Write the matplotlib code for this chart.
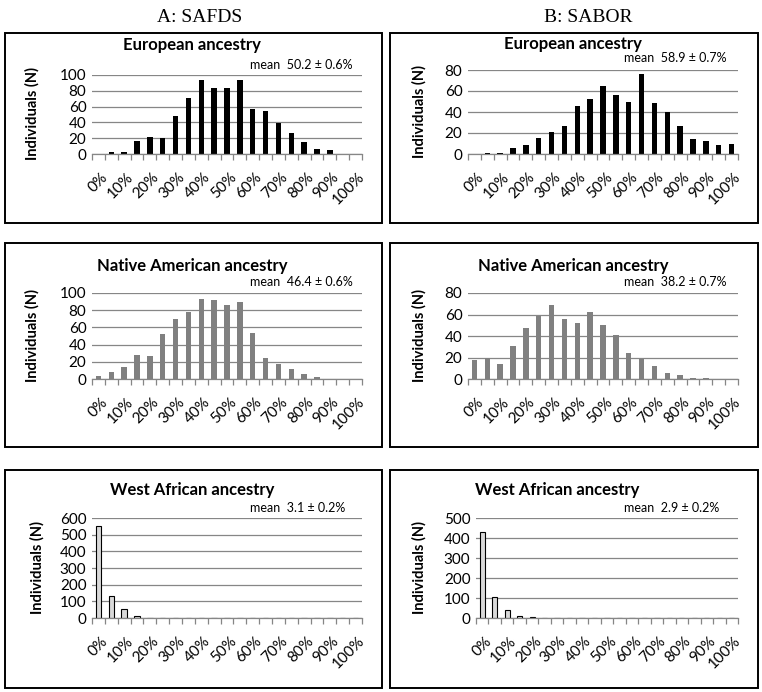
import matplotlib
matplotlib.use("Agg")
import matplotlib.pyplot as plt
from matplotlib.patches import Rectangle
from matplotlib.ticker import MultipleLocator, FixedLocator
import matplotlib.transforms as mtransforms
import numpy as np

W, H = 762, 692
DPI = 100

# ---------------- data ----------------
bin_labels = ["%d%%" % v for v in range(0, 101, 5)]          # 21 categories
tick_labels = ["%d%%" % v for v in range(0, 101, 10)]        # labelled every other category

col_titles = ["A: SAFDS", "B: SABOR"]
row_titles = ["European ancestry", "Native American ancestry", "West African ancestry"]

safds_eur = [0, 2, 3, 17, 21, 20, 48, 71, 94, 83, 84, 94, 57, 54, 39, 27, 15, 6, 5, 0, 0]
sabor_eur = [0, 1, 1, 6, 9, 15, 21, 27, 46, 52, 65, 56, 50, 76, 49, 40, 27, 14, 12, 9, 10]
safds_nat = [3, 8, 14, 28, 27, 52, 70, 78, 93, 92, 86, 90, 54, 25, 18, 12, 6, 2, 0, 0, 0]
sabor_nat = [18, 20, 14, 31, 47, 59, 69, 56, 52, 62, 50, 41, 24, 19, 12, 6, 4, 1, 1, 0, 0]
safds_waf = [550, 130, 52, 12, 3, 0, 2, 0, 0, 0, 0, 0, 0, 0, 0, 0, 0, 0, 0, 0, 0]
sabor_waf = [432, 103, 40, 8, 5, 0, 2, 0, 0, 0, 0, 0, 0, 2, 0, 0, 0, 0, 0, 0, 0]

means = [["mean  50.2 \u00b1 0.6%", "mean  58.9 \u00b1 0.7%"],
         ["mean  46.4 \u00b1 0.6%", "mean  38.2 \u00b1 0.7%"],
         ["mean  3.1 \u00b1 0.2%", "mean  2.9 \u00b1 0.2%"]]

ymax = [[100, 80], [100, 80], [600, 500]]
ystep = [[20, 20], [20, 20], [100, 100]]

series = [[safds_eur, sabor_eur], [safds_nat, sabor_nat], [safds_waf, sabor_waf]]
face = ["black", "#808080", "#d9d9d9"]
edge = ["black", "#808080", "black"]

# ---------------- layout (pixels) ----------------
boxes = [[(5, 33, 382, 223), (390, 33, 758, 223)],
         [(5, 243, 382, 447), (390, 243, 758, 447)],
         [(5, 470, 382, 688), (390, 470, 758, 688)]]
plots = [[(92, 75, 362, 154), (468, 70, 738, 154)],
         [(92, 293, 362, 379), (468, 293, 738, 379)],
         [(92, 518, 362, 618), (476, 518, 738, 618)]]
title_pos = [[(192, 45), (573, 44)], [(192, 266), (573, 266)], [(192, 490), (557, 490)]]
mean_pos = [[(250, 65), (624, 58)], [(250, 282), (624, 282)], [(250, 508), (624, 508)]]
ylab_pos = [[(32, 113), (419, 111)], [(32, 336), (419, 336)], [(37, 567), (419, 567)]]
col_pos = [(200, 18), (588, 18)]

FONT = "Lato"
plt.rcParams["font.family"] = [FONT, "DejaVu Sans"]

fig = plt.figure(figsize=(W / DPI, H / DPI), dpi=DPI)


def fx(x):
    return x / W


def fy(y):
    return 1 - y / H


for c, t in enumerate(col_titles):
    fig.text(fx(col_pos[c][0]), fy(col_pos[c][1]), t, ha="center", va="center",
             family=["Liberation Serif", "DejaVu Serif"], fontsize=14)

x = np.arange(len(bin_labels))
for r in range(3):
    for c in range(2):
        bx0, by0, bx1, by1 = boxes[r][c]
        fig.patches.append(Rectangle((fx(bx0), fy(by1)), fx(bx1 - bx0), (by1 - by0) / H,
                                     transform=fig.transFigure, fill=False,
                                     edgecolor="black", linewidth=1.4))
        px0, py0, px1, py1 = plots[r][c]
        ax = fig.add_axes([fx(px0), fy(py1), fx(px1 - px0), (py1 - py0) / H])
        ax.bar(x, series[r][c], width=0.42, color=face[r], edgecolor=edge[r],
               linewidth=0.8 if r == 2 else 0, zorder=3)
        ax.set_xlim(-0.5, len(bin_labels) - 0.5)
        ax.set_ylim(0, ymax[r][c])
        ax.yaxis.set_major_locator(MultipleLocator(ystep[r][c]))
        ax.grid(axis="y", color="#868686", linewidth=0.9, zorder=0)
        for s in ["left", "right", "top"]:
            ax.spines[s].set_visible(False)
        ax.spines["bottom"].set_color("#868686")
        ax.spines["bottom"].set_linewidth(0.9)
        ax.spines["bottom"].set_zorder(4)
        ax.tick_params(axis="y", length=0, labelsize=11, pad=4)
        # category boundary ticks
        ax.xaxis.set_minor_locator(FixedLocator(np.arange(-0.5, len(bin_labels), 1.0)))
        ax.tick_params(axis="x", which="minor", length=4, color="#868686", width=0.9)
        ax.set_xticks(x[::2])
        ax.set_xticklabels(tick_labels, rotation=45, ha="right", va="center",
                           rotation_mode="anchor", fontsize=11)
        ax.tick_params(axis="x", which="major", length=0, pad=15)
        off = mtransforms.ScaledTranslation(7 / DPI, 0, fig.dpi_scale_trans)
        for lab in ax.get_xticklabels():
            lab.set_transform(lab.get_transform() + off)

        fig.text(fx(title_pos[r][c][0]), fy(title_pos[r][c][1]), row_titles[r],
                 ha="center", va="center", fontsize=12, fontweight="bold")
        fig.text(fx(mean_pos[r][c][0]), fy(mean_pos[r][c][1]), means[r][c],
                 ha="left", va="center", fontsize=9)
        fig.text(fx(ylab_pos[r][c][0]), fy(ylab_pos[r][c][1]), "Individuals (N)",
                 ha="center", va="center", rotation=90, fontsize=10.5, fontweight="bold")

fig.savefig("out.png", dpi=DPI)
